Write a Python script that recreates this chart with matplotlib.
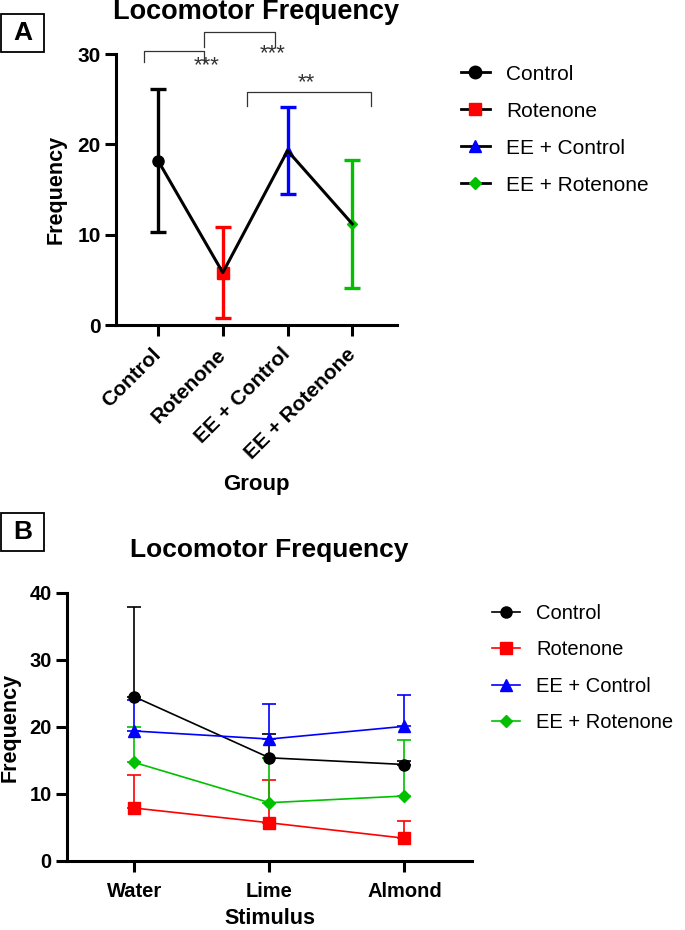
import numpy as np
import matplotlib
matplotlib.use('Agg')
import matplotlib.pyplot as plt
from matplotlib.lines import Line2D
from matplotlib.patches import Rectangle

plt.rcParams['font.family'] = ['Liberation Sans', 'DejaVu Sans']

# パネルA: 群ごとの平均とSD
groups = ['Control', 'Rotenone', 'EE + Control', 'EE + Rotenone']
group_mean = [18.2, 5.8, 19.3, 11.2]
group_sd = [7.95, 5.0, 4.8, 7.05]

# パネルB: 刺激ごとの平均と+SD
stimuli = ['Water', 'Lime', 'Almond']
stim_mean = {
    'Control': [24.5, 15.4, 14.4],
    'Rotenone': [7.9, 5.7, 3.4],
    'EE + Control': [19.4, 18.2, 20.1],
    'EE + Rotenone': [14.7, 8.7, 9.7],
}
stim_sd = {
    'Control': [13.4, 3.6, 0.5],
    'Rotenone': [4.9, 6.4, 2.6],
    'EE + Control': [4.6, 5.3, 4.7],
    'EE + Rotenone': [5.3, 6.6, 8.4],
}

colors = ['black', '#ff0000', '#0000ff', '#00c000']
markers = ['o', 's', '^', 'D']
msize_a = [8, 8, 7, 5]
msize_b = [8, 8, 8, 6]

fig = plt.figure(figsize=(6.85, 9.3), dpi=100)

# ---------- A ----------
axA = fig.add_axes([0.1693, 0.6505, 0.4102, 0.2914])
x = np.arange(len(groups))
axA.plot(x, group_mean, color='black', lw=2.2, zorder=3)
for i in range(len(groups)):
    axA.errorbar(x[i], group_mean[i], yerr=group_sd[i], color=colors[i], lw=2.4,
                 capsize=6, capthick=2.4, marker=markers[i], ms=msize_a[i], zorder=2)
axA.set_xlim(-0.65, 3.69)
axA.set_ylim(0, 30)
axA.set_yticks([0, 10, 20, 30])
axA.set_xticks(x)
axA.set_xticklabels(groups, rotation=45, ha='right', va='center', rotation_mode='anchor',
                    fontsize=15, fontweight='bold')
for lab in axA.get_yticklabels():
    lab.set_fontsize(15)
    lab.set_fontweight('bold')
axA.set_ylabel('Frequency', fontsize=15.5, fontweight='bold')
axA.yaxis.set_label_coords(-0.174, 0.5)
axA.set_xlabel('Group', fontsize=16, fontweight='bold')
axA.xaxis.set_label_coords(0.5, -0.55)

# 有意差ブラケット
brackets = [(-0.22, 0.71, 29.1, 30.3, '***', 0.75, 28.7),
            (0.71, 1.80, 30.8, 32.4, '***', 1.77, 30.0),
            (1.37, 3.29, 24.3, 25.8, '**', 2.29, 26.8)]
for x0, x1, yb, yt, s, sx, sy in brackets:
    axA.plot([x0, x0, x1, x1], [yb, yt, yt, yb], color='#333333', lw=0.9, clip_on=False)
    axA.text(sx, sy, s, ha='center', va='center', fontsize=16, color='#333333')

handlesA = [Line2D([], [], color='black', lw=2, marker=markers[i], ms=msize_a[i] + 1,
                   mfc=colors[i], mec=colors[i]) for i in range(4)]
fig.legend(handlesA, groups, loc='upper left', bbox_to_anchor=(0.645, 0.9505), frameon=False,
           fontsize=15, handlelength=1.4, handletextpad=0.8, labelspacing=0.86)

fig.text(256 / 685, 1 - 12 / 930, 'Locomotor Frequency', ha='center', va='center',
         fontsize=19.5, fontweight='bold')

# ---------- B ----------
axB = fig.add_axes([0.0978, 0.0742, 0.5912, 0.2882])
xb = np.arange(len(stimuli))
for i, g in enumerate(groups):
    axB.errorbar(xb, stim_mean[g], yerr=[np.zeros(3), stim_sd[g]], color=colors[i], lw=1.2,
                 capsize=5, capthick=1.2, marker=markers[i], ms=msize_b[i], label=g)
axB.set_xlim(-0.5, 2.5)
axB.set_ylim(0, 40)
axB.set_yticks([0, 10, 20, 30, 40])
axB.set_xticks(xb)
axB.set_xticklabels(stimuli, fontsize=14.5, fontweight='bold')
for lab in axB.get_yticklabels():
    lab.set_fontsize(14.5)
    lab.set_fontweight('bold')
axB.set_ylabel('Frequency', fontsize=15.5, fontweight='bold')
axB.yaxis.set_label_coords(-0.114, 0.5)
axB.set_xlabel('Stimulus', fontsize=15.5, fontweight='bold')
axB.xaxis.set_label_coords(0.5, -0.176)

hB = [Line2D([], [], color=colors[i], lw=1.2, marker=markers[i], ms=msize_b[i]) for i in range(4)]
fig.legend(hB, groups, loc='upper left', bbox_to_anchor=(0.692, 0.370), frameon=False,
           fontsize=14.5, handlelength=1.4, handletextpad=0.8, labelspacing=0.86)

fig.text(269 / 685, 1 - 550 / 930, 'Locomotor Frequency', ha='center', va='center',
         fontsize=19, fontweight='bold')

for ax in (axA, axB):
    for side in ('top', 'right'):
        ax.spines[side].set_visible(False)
    for side in ('left', 'bottom'):
        ax.spines[side].set_linewidth(2.2)
    ax.tick_params(width=2.2, length=8, pad=3)
axA.tick_params(axis='x', pad=11)
axB.tick_params(axis='x', pad=7)

# パネルラベル
for lab, ytop in (('A', 14), ('B', 513)):
    fig.add_artist(Rectangle((1 / 685, 1 - (ytop + 38) / 930), 43 / 685, 38 / 930,
                             transform=fig.transFigure, fill=False, ec='black', lw=1.3))
    fig.text(22.5 / 685, 1 - (ytop + 19) / 930, lab, ha='center', va='center',
             fontsize=19, fontweight='bold')

fig.savefig('out.png', dpi=100)
